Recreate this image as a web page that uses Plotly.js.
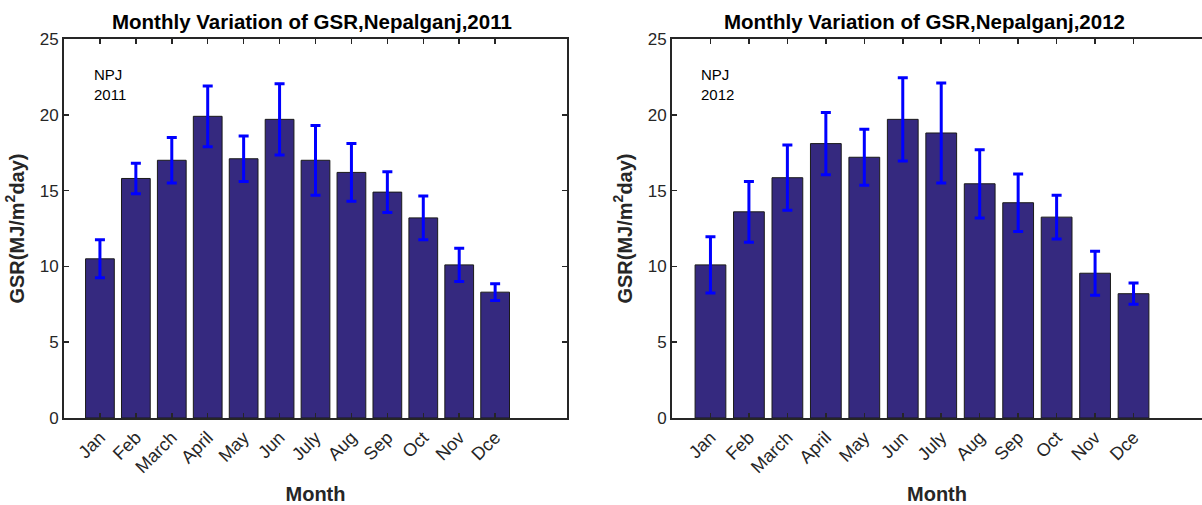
<!DOCTYPE html>
<html>
<head>
<meta charset="utf-8">
<script src="https://cdn.plot.ly/plotly-3.0.1.min.js"></script>
<style>html,body{margin:0;padding:0;background:#fff;}#chart{width:1202px;height:505px;}</style>
</head>
<body>
<div id="chart"></div>
<script>
// Data
const months = ["Jan","Feb","March","April","May","Jun","July","Aug","Sep","Oct","Nov","Dce"];
const gsr2011 = [10.5, 15.8, 17.0, 19.9, 17.1, 19.7, 17.0, 16.2, 14.9, 13.2, 10.1, 8.3];
const err2011 = [1.25, 1.0, 1.5, 2.0, 1.5, 2.35, 2.3, 1.9, 1.35, 1.45, 1.1, 0.55];
const gsr2012 = [10.1, 13.6, 15.85, 18.1, 17.2, 19.7, 18.8, 15.45, 14.2, 13.25, 9.55, 8.2];
const err2012 = [1.85, 2.0, 2.15, 2.05, 1.85, 2.75, 3.3, 2.25, 1.9, 1.45, 1.45, 0.7];
const yticks = [0, 5, 10, 15, 20, 25];

const W = 1202, H = 505;
const FONT = '"Liberation Sans", Arial, sans-serif';
const barColor = '#35297f';
const axColor = '#262626';

function bar(y, e, xa, ya) {
  return {
    type: 'bar', x: months, y: y, xaxis: xa, yaxis: ya,
    marker: {color: barColor, line: {color: '#1a1a1a', width: 1}},
    error_y: {type: 'data', array: e, visible: true, color: '#0000ff', thickness: 3, width: 5},
    showlegend: false, hoverinfo: 'skip'
  };
}

function xax(domain, range) {
  return {
    domain: domain, range: range, type: 'category',
    showline: true, linecolor: axColor, linewidth: 2, mirror: 'ticks',
    ticks: 'inside', ticklen: 5, tickcolor: axColor, tickwidth: 1.5,
    tickangle: -45, tickfont: {family: FONT, size: 18, color: axColor},
    showgrid: false, zeroline: false, fixedrange: true,
    title: {text: 'Month', font: {family: FONT, size: 20, color: axColor, weight: 'bold'}, standoff: 13}
  };
}
function yax(anchor, mirror) {
  return {
    domain: [1 - 418 / H, 1 - 39 / H], range: [0, 25], anchor: anchor,
    tickvals: yticks, ticktext: yticks.map(String),
    showline: true, linecolor: axColor, linewidth: 2, mirror: mirror,
    ticks: 'inside', ticklen: 5, tickcolor: axColor, tickwidth: 1.5,
    tickfont: {family: FONT, size: 17, color: axColor},
    showgrid: false, zeroline: false, fixedrange: true,
    title: {text: 'GSR(MJ/m<sup>2</sup>day)', font: {family: FONT, size: 20, color: axColor, weight: 'bold'}, standoff: 10}
  };
}

const data = [bar(gsr2011, err2011, 'x', 'y'), bar(gsr2012, err2012, 'x2', 'y2')];

const layout = {
  width: W, height: H,
  margin: {l: 0, r: 0, t: 0, b: 0},
  paper_bgcolor: '#fff', plot_bgcolor: '#fff',
  bargap: 0.2,
  font: {family: FONT},
  xaxis: xax([64 / W, 567 / W], [-1, 13]),
  yaxis: yax('x', 'ticks'),
  xaxis2: Object.assign(xax([672 / W, 1], [-1, 12.78]), {anchor: 'y2'}),
  yaxis2: yax('x2', false),
  annotations: [
    {text: '<b>Monthly Variation of GSR,Nepalganj,2011</b>', xref: 'paper', yref: 'paper',
     x: 312 / W, y: 1 - 21 / H, xanchor: 'center', yanchor: 'middle', showarrow: false,
     font: {family: FONT, size: 20.5, color: '#000'}},
    {text: '<b>Monthly Variation of GSR,Nepalganj,2012</b>', xref: 'paper', yref: 'paper',
     x: 924 / W, y: 1 - 21 / H, xanchor: 'center', yanchor: 'middle', showarrow: false,
     font: {family: FONT, size: 20.5, color: '#000'}},
    {text: 'NPJ<br>2011', xref: 'paper', yref: 'paper', x: 92 / W, y: 1 - 64 / H,
     xanchor: 'left', yanchor: 'top', align: 'left', showarrow: false,
     font: {family: FONT, size: 15, color: '#000'}},
    {text: 'NPJ<br>2012', xref: 'paper', yref: 'paper', x: 699 / W, y: 1 - 64 / H,
     xanchor: 'left', yanchor: 'top', align: 'left', showarrow: false,
     font: {family: FONT, size: 15, color: '#000'}}
  ]
};

Plotly.newPlot('chart', data, layout, {staticPlot: true, displayModeBar: false});
</script>
</body>
</html>
